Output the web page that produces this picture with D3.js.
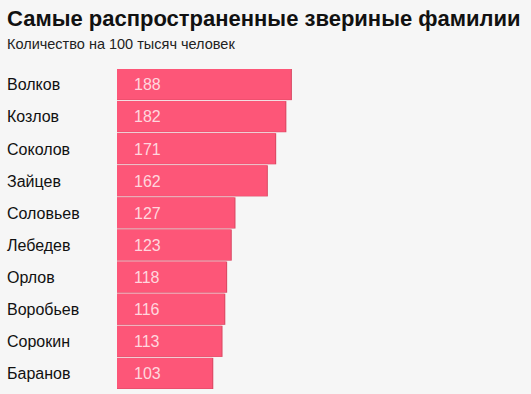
<!DOCTYPE html>
<html>
<head>
<meta charset="utf-8">
<script src="https://cdn.jsdelivr.net/npm/d3@7"></script>
<style>
  body { margin: 0; background: #f6f6f6; }
  svg { display: block; font-family: "Liberation Sans", Arial, sans-serif; }
</style>
</head>
<body>
<div id="chart"></div>
<script>
var names = ["Волков", "Козлов", "Соколов", "Зайцев", "Соловьев", "Лебедев", "Орлов", "Воробьев", "Сорокин", "Баранов"];
var values = [188, 182, 171, 162, 127, 123, 118, 116, 113, 103];
var title = "Самые распространенные звериные фамилии";
var subtitle = "Количество на 100 тысяч человек";

var width = 531, height = 394;
var margin = {top: 69, left: 117, bottom: 5};

var svg = d3.select("#chart").append("svg")
	.attr("width", width)
	.attr("height", height);

svg.append("rect").attr("width", width).attr("height", height).attr("fill", "#f6f6f6");

svg.append("text")
	.attr("x", 7).attr("y", 26)
	.attr("font-size", 22).attr("font-weight", "bold")
	.attr("fill", "#111")
	.text(title);

svg.append("text")
	.attr("x", 7).attr("y", 49)
	.attr("font-size", 14.5)
	.attr("fill", "#222")
	.text(subtitle);

var x = d3.scaleLinear().domain([0, 200]).range([0, 185]);
var y = d3.scaleBand().domain(names).range([margin.top, margin.top + 320]).paddingInner(0.03).paddingOuter(0);

var g = svg.append("g").attr("transform", "translate(" + margin.left + ",0)");

var rows = g.selectAll(".row")
	.data(names)
	.enter()
	.append("g")
	.attr("class", "row");

// slight shadow on the right edge
rows.append("rect")
	.attr("x", 0)
	.attr("y", function(d){ return y(d); })
	.attr("width", function(d, i){ return x(values[i]) + 1; })
	.attr("height", y.bandwidth())
	.attr("fill", "#d94862");

rows.append("rect")
	.attr("x", 0)
	.attr("y", function(d){ return y(d); })
	.attr("width", function(d, i){ return x(values[i]); })
	.attr("height", y.bandwidth() - 0.5)
	.attr("fill", "#fd5678");

rows.append("text")
	.attr("x", 17)
	.attr("y", function(d){ return y(d) + y.bandwidth() / 2; })
	.attr("dy", "0.36em")
	.attr("font-size", 16)
	.attr("fill", "#ffd6de")
	.text(function(d, i){ return values[i]; });

svg.selectAll(".name")
	.data(names)
	.enter()
	.append("text")
	.attr("class", "name")
	.attr("x", 7)
	.attr("y", function(d){ return y(d) + y.bandwidth() / 2; })
	.attr("dy", "0.36em")
	.attr("font-size", 16)
	.attr("fill", "#111")
	.text(function(d){ return d; });
</script>
</body>
</html>
